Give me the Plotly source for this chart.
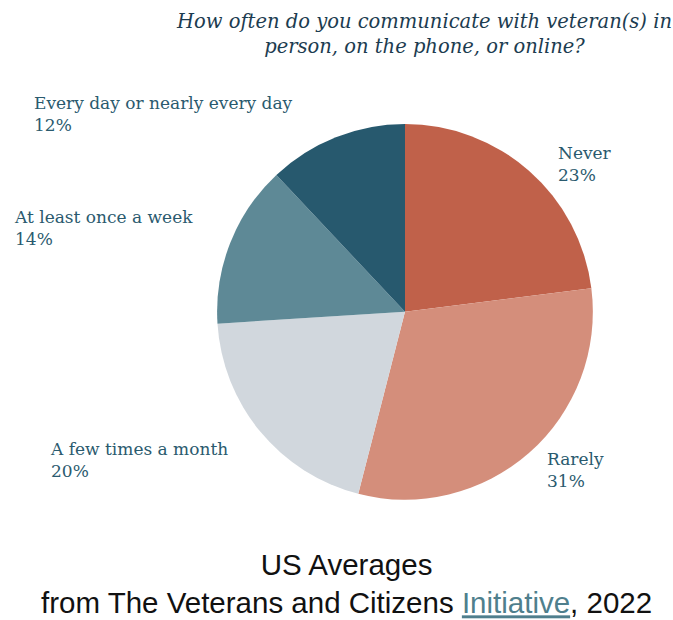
import plotly.graph_objects as go

# Survey responses, in clockwise order starting at 12 o'clock
categories = ["Never", "Rarely", "A few times a month",
              "At least once a week", "Every day or nearly every day"]
shares = [23, 31, 20, 14, 12]
slice_colors = ["#C0614A", "#D48E7B", "#D1D7DD", "#5E8996", "#27596E"]

title_lines = ["How often do you communicate with veteran(s) in",
               "person, on the phone, or online?"]
caption_lines = ["US Averages",
                 "from The Veterans and Citizens {link}, 2022"]
link_word = "Initiative"

W, H = 673, 620
label_color = "#2A5A6E"
serif = "DejaVu Serif, Liberation Serif, serif"

fig = go.Figure(go.Pie(
    labels=categories,
    values=shares,
    sort=False,
    direction="clockwise",
    rotation=0,
    marker=dict(colors=slice_colors, line=dict(width=0)),
    textinfo="none",
    hoverinfo="label+percent",
    showlegend=False,
    domain=dict(x=[0.3224, 0.8811], y=[0.194, 0.800]),
))

# label anchors (left, top) in pixels for each slice
label_pos = [(556, 141), (545, 447), (48, 437), (12, 205), (32, 91)]
for cat, val, (px, py) in zip(categories, shares, label_pos):
    fig.add_annotation(
        text=f"{cat}<br>{val}%",
        x=px / W, y=1 - py / H, xref="paper", yref="paper",
        xanchor="left", yanchor="top", align="left", showarrow=False,
        font=dict(family=serif, size=17, color=label_color),
    )

fig.add_annotation(
    text="<i>" + "<br>".join(title_lines) + "</i>",
    x=424 / W, y=1 - 8 / H, xref="paper", yref="paper",
    xanchor="center", yanchor="top", align="center", showarrow=False,
    font=dict(family=serif, size=19.5, color="#1C3C50"),
)

link_html = ('<span style="color:#4F7F8D;text-decoration:underline">'
             + link_word + "</span>")
fig.add_annotation(
    text=caption_lines[0] + "<br>" + caption_lines[1].format(link=link_html),
    x=347 / W, y=0, xref="paper", yref="paper",
    xanchor="center", yanchor="bottom", align="center", showarrow=False,
    borderpad=0,
    font=dict(family="Liberation Sans, Arial, sans-serif", size=29.5, color="#111111"),
)

fig.update_layout(
    width=W, height=H,
    margin=dict(l=0, r=0, t=0, b=0),
    paper_bgcolor="white", plot_bgcolor="white",
)

fig.write_html("out.html")
